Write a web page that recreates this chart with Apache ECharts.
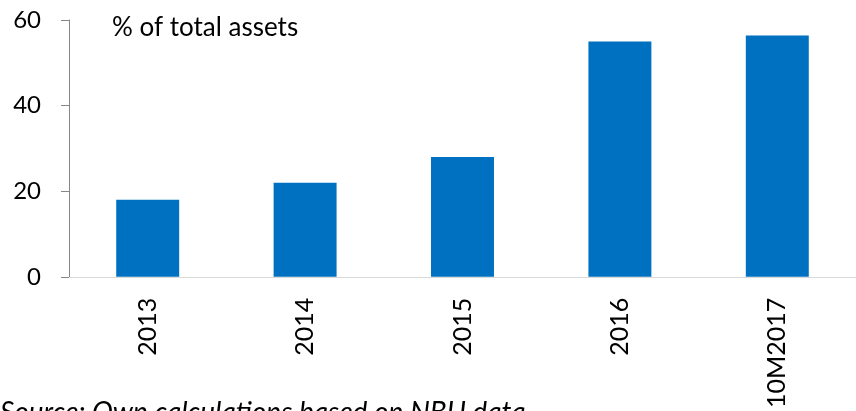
<!DOCTYPE html>
<html>
<head>
<meta charset="utf-8">
<script src="https://cdn.jsdelivr.net/npm/echarts@6/dist/echarts.min.js"></script>
<style>
  html, body { margin: 0; padding: 0; background: #fff; }
  #chart { width: 856px; height: 411px; }
</style>
</head>
<body>
<div id="chart"></div>
<script>
// categories and values (% of total assets)
const categories = ['2013', '2014', '2015', '2016', '10M2017']
const shareValues = [18, 22, 28, 55, 56.4]
const yTicks = { min: 0, max: 60, interval: 20 }

const FONT = 'Lato'
const chart = echarts.init(document.getElementById('chart'))

const option = {
    animation: false,
    grid: { left: 69, top: 20, width: 795, height: 258 },
    xAxis: {
        type: 'category',
        data: categories,
        axisLine: { lineStyle: { color: '#d9d9d9', width: 1 } },
        axisTick: { show: false },
        axisLabel: {
            rotate: 90,
            margin: 21,
            color: '#000',
            fontFamily: FONT,
            fontSize: 25,
        },
    },
    yAxis: {
        type: 'value',
        min: yTicks.min,
        max: yTicks.max,
        interval: yTicks.interval,
        axisLine: { show: true, lineStyle: { color: '#868686', width: 1 } },
        axisTick: { show: true, length: 8, lineStyle: { color: '#868686' } },
        splitLine: { show: false },
        axisLabel: {
            margin: 28,
            color: '#000',
            fontFamily: FONT,
            fontSize: 24,
        },
    },
    series: [{
        type: 'bar',
        data: shareValues,
        barCategoryGap: '60%',
        itemStyle: { color: '#0070c0' },
    }],
    graphic: [
        {
            type: 'text',
            left: 112,
            top: 15,
            style: { text: '% of total assets', fill: '#000', font: '26px ' + FONT },
        },
        {
            type: 'text',
            left: 0,
            top: 399,
            style: { text: 'Source: Own calculations based on NBU data', fill: '#000', font: 'italic 28px ' + FONT },
        },
    ],
}
chart.setOption(option)
</script>
</body>
</html>
